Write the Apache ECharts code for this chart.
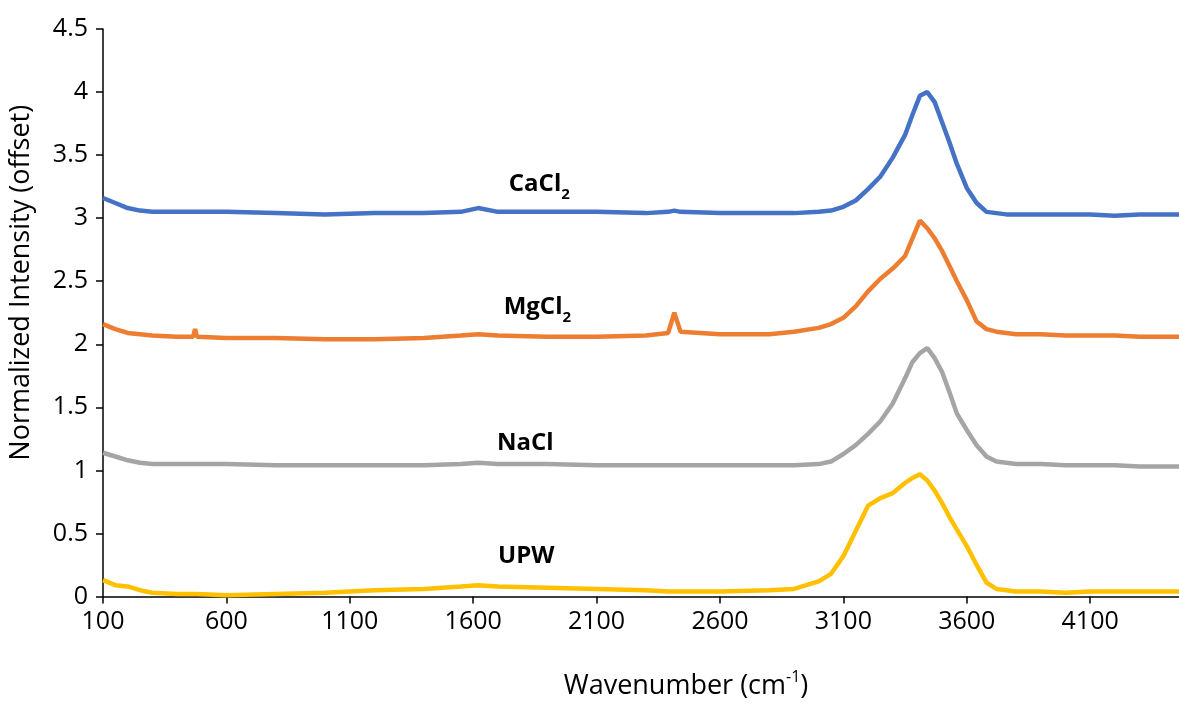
<!DOCTYPE html>
<html><head><meta charset="utf-8">
<script src="https://cdn.jsdelivr.net/npm/echarts@6/dist/echarts.min.js"></script>
<style>html,body{margin:0;padding:0;background:#fff}#c{width:1179px;height:705px}</style>
</head><body><div id="c"></div>
<script>
const wavenumber = [100,150,200,250,300,400,465,473,481,600,800,1000,1200,1400,1550,1620,1700,1900,2100,2300,2390,2415,2440,2600,2800,2900,3000,3050,3100,3150,3200,3250,3300,3350,3380,3410,3440,3470,3500,3530,3560,3600,3640,3680,3720,3760,3800,3900,4000,4100,4200,4300,4400,4460];
const cacl2 = [3.16,3.12,3.08,3.06,3.05,3.05,3.05,3.05,3.05,3.05,3.04,3.03,3.04,3.04,3.05,3.08,3.05,3.05,3.05,3.04,3.05,3.06,3.05,3.04,3.04,3.04,3.05,3.06,3.09,3.14,3.23,3.33,3.48,3.66,3.82,3.97,4.00,3.92,3.76,3.60,3.43,3.24,3.12,3.05,3.04,3.03,3.03,3.03,3.03,3.03,3.02,3.03,3.03,3.03];
const mgcl2 = [2.16,2.12,2.09,2.08,2.07,2.06,2.06,2.12,2.06,2.05,2.05,2.04,2.04,2.05,2.07,2.08,2.07,2.06,2.06,2.07,2.09,2.25,2.10,2.08,2.08,2.10,2.13,2.16,2.21,2.30,2.42,2.52,2.60,2.70,2.84,2.98,2.92,2.84,2.74,2.62,2.50,2.35,2.18,2.12,2.10,2.09,2.08,2.08,2.07,2.07,2.07,2.06,2.06,2.06];
const nacl = [1.14,1.11,1.08,1.06,1.05,1.05,1.05,1.05,1.05,1.05,1.04,1.04,1.04,1.04,1.05,1.06,1.05,1.05,1.04,1.04,1.04,1.04,1.04,1.04,1.04,1.04,1.05,1.07,1.13,1.20,1.29,1.39,1.53,1.73,1.86,1.93,1.97,1.89,1.78,1.62,1.45,1.32,1.20,1.11,1.07,1.06,1.05,1.05,1.04,1.04,1.04,1.03,1.03,1.03];
const upw = [0.13,0.09,0.08,0.05,0.03,0.02,0.02,0.02,0.02,0.01,0.02,0.03,0.05,0.06,0.08,0.09,0.08,0.07,0.06,0.05,0.04,0.04,0.04,0.04,0.05,0.06,0.12,0.18,0.32,0.52,0.72,0.78,0.82,0.90,0.94,0.97,0.92,0.84,0.74,0.63,0.53,0.40,0.25,0.11,0.06,0.05,0.04,0.04,0.03,0.04,0.04,0.04,0.04,0.04];
const seriesNames = ['UPW','NaCl','MgCl2','CaCl2'];
const seriesColors = ['#FFC000','#A5A5A5','#ED7D31','#4472C4'];
const labelText = ['{b|UPW}','{b|NaCl}','{b|MgCl}{s|2}','{b|CaCl}{s|2}'];
const labelAnchor = [[1815,0.34],[1811,1.24],[1860,2.32],[1868,3.29]];
const xTicks = {min:100, max:4460, interval:500};
const yTicks = {min:0, max:4.5, interval:0.5};

const FONT = '"Open Sans", Lato, sans-serif';
const values = [upw, nacl, mgcl2, cacl2];
const series = values.map((v,i)=>({
  name: seriesNames[i], type:'line', showSymbol:false, symbol:'none',
  data: wavenumber.map((x,j)=>[x, v[j]]),
  lineStyle:{color:seriesColors[i], width:4.5}, itemStyle:{color:seriesColors[i]},
  animation:false,
  markPoint:{ symbol:'circle', symbolSize:0, animation:false,
    data:[{coord:labelAnchor[i], value:0}],
    label:{show:true, position:'inside', formatter:labelText[i],
      rich:{
        b:{fontFamily:FONT, fontWeight:'bold', fontSize:24, color:'#000', lineHeight:30, verticalAlign:'bottom'},
        s:{fontFamily:FONT, fontWeight:'bold', fontSize:15, color:'#000', lineHeight:30, verticalAlign:'bottom', padding:[0,0,-6,0]}
      }}
  }
}));

const chart = echarts.init(document.getElementById('c'), null, {renderer:'canvas'});
chart.setOption({
  backgroundColor:'#fff',
  animation:false,
  grid:{left:103, right:0, top:29, bottom:102, containLabel:false},
  xAxis:{type:'value', min:xTicks.min, max:xTicks.max, interval:xTicks.interval,
    axisLine:{onZero:false, lineStyle:{color:'#000', width:1.5}},
    axisTick:{show:true, length:7, lineStyle:{color:'#000', width:1.5}},
    splitLine:{show:false},
    axisLabel:{showMaxLabel:false, color:'#000', fontSize:25, fontFamily:FONT, margin:13, formatter:v=>String(v)},
    name:'{a|Wavenumber (cm}{sup|-1}{a|)}', nameLocation:'middle', nameGap:73,
    nameTextStyle:{padding:[0,0,0,90], rich:{
      a:{fontSize:27, fontFamily:FONT, color:'#000', lineHeight:34},
      sup:{fontSize:16, fontFamily:FONT, color:'#000', lineHeight:34, verticalAlign:'top', padding:[0,0,14,0]}
    }}
  },
  yAxis:{type:'value', min:yTicks.min, max:yTicks.max, interval:yTicks.interval,
    axisLine:{show:true, lineStyle:{color:'#000', width:1.5}},
    axisTick:{show:true, length:7, lineStyle:{color:'#000', width:1.5}},
    splitLine:{show:false},
    axisLabel:{color:'#000', fontSize:25, fontFamily:FONT, margin:15},
    name:'Normalized Intensity (offset)', nameLocation:'middle', nameGap:68,
    nameTextStyle:{fontSize:27, fontFamily:FONT, color:'#000', padding:[0,0,0,60]}
  },
  series: series
});
</script></body></html>
